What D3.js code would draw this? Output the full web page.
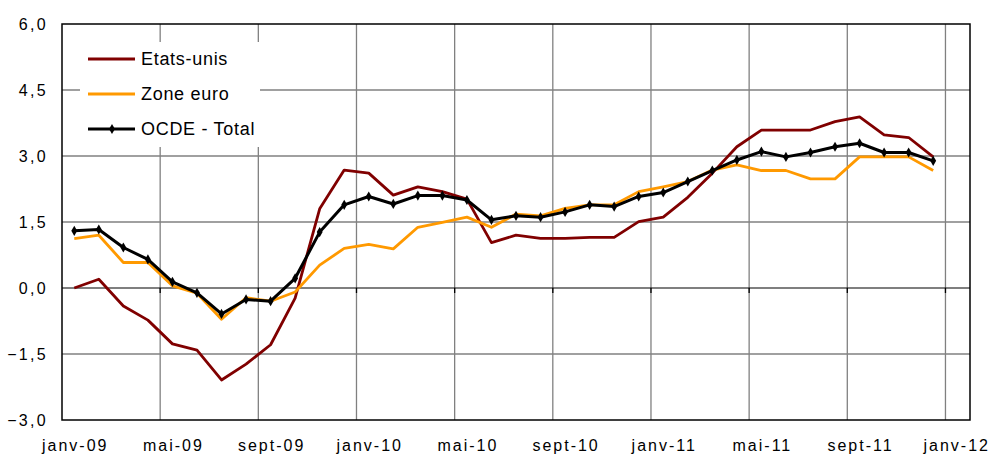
<!DOCTYPE html>
<html>
<head>
<meta charset="utf-8">
<script src="https://cdn.jsdelivr.net/npm/d3@7"></script>
<style>
  body { margin: 0; background: #fff; }
  text { font-family: Arial, "Liberation Sans", sans-serif; fill: #000; }
</style>
</head>
<body>
<div id="chart"></div>
<script>
// monthly data, janv-09 .. déc-11
const months = d3.range(36).map(i => new Date(2009, i, 1));
const etatsUnis = [0.0, 0.2, -0.41, -0.73, -1.27, -1.41, -2.09, -1.73, -1.29, -0.23, 1.80, 2.68,
  2.61, 2.11, 2.30, 2.19, 2.02, 1.03, 1.20, 1.13, 1.13, 1.15, 1.15, 1.51,
  1.61, 2.06, 2.61, 3.21, 3.59, 3.59, 3.59, 3.78, 3.89, 3.48, 3.42, 2.98];
const zoneEuro = [1.12, 1.20, 0.58, 0.58, 0.05, -0.12, -0.71, -0.22, -0.30, -0.09, 0.52, 0.90,
  0.99, 0.89, 1.38, 1.49, 1.61, 1.38, 1.68, 1.64, 1.81, 1.89, 1.89, 2.19,
  2.30, 2.42, 2.68, 2.80, 2.67, 2.67, 2.48, 2.48, 2.98, 2.98, 2.98, 2.67];
const ocde = [1.30, 1.33, 0.92, 0.65, 0.14, -0.11, -0.59, -0.26, -0.30, 0.22, 1.27, 1.89,
  2.08, 1.91, 2.10, 2.10, 2.00, 1.55, 1.64, 1.61, 1.73, 1.89, 1.85, 2.08,
  2.17, 2.42, 2.67, 2.91, 3.10, 2.98, 3.08, 3.21, 3.29, 3.08, 3.08, 2.89];
const seriesNames = ["Etats-unis", "Zone euro", "OCDE - Total"];
const seriesColors = ["#800000", "#FF9900", "#000000"];
const yTicks = [-3, -1.5, 0, 1.5, 3, 4.5, 6];
const xTickMonths = d3.range(0, 37, 4); // janv-09, mai-09, sept-09 ...
const moisFr = ["janv", "févr", "mars", "avr", "mai", "juin", "juil", "août", "sept", "oct", "nov", "déc"];

const W = 991, H = 456;
const margin = {left: 62, right: 21, top: 24, bottom: 36};

const svg = d3.select("#chart").append("svg")
  .attr("width", W).attr("height", H);

// month index scale (equal width months, as in the original)
const x = d3.scaleLinear().domain([0, 37]).range([margin.left, W - margin.right]);
const y = d3.scaleLinear().domain([-3, 6]).range([H - margin.bottom, margin.top]);

const fmt = v => d3.format(".1f")(v).replace(".", ",");

// grid
svg.append("g").selectAll("line").data(yTicks.filter(v => v !== 0 && v !== -3 && v !== 6))
  .join("line")
  .attr("x1", x(0)).attr("x2", x(37))
  .attr("y1", d => y(d)).attr("y2", d => y(d))
  .attr("stroke", "#808080").attr("stroke-width", 1.3);
svg.append("g").selectAll("line").data(xTickMonths.filter(m => m > 0 && m < 37))
  .join("line")
  .attr("x1", d => x(d)).attr("x2", d => x(d))
  .attr("y1", y(6)).attr("y2", y(-3))
  .attr("stroke", "#808080").attr("stroke-width", 1.3);

// zero line with ticks
svg.append("line")
  .attr("x1", x(0)).attr("x2", x(37))
  .attr("y1", y(0)).attr("y2", y(0))
  .attr("stroke", "#000").attr("stroke-width", 1.2);
svg.append("g").selectAll("line").data(xTickMonths.filter(m => m > 0 && m < 37))
  .join("line")
  .attr("x1", d => x(d)).attr("x2", d => x(d))
  .attr("y1", y(0)).attr("y2", y(0) + 5)
  .attr("stroke", "#000").attr("stroke-width", 1.3);

// legend box (white, hides grid)
const lg = svg.append("g");
lg.append("rect")
  .attr("x", 80).attr("y", 42).attr("width", 180).attr("height", 105)
  .attr("fill", "#fff");

// frame
svg.append("rect")
  .attr("x", x(0)).attr("y", y(6))
  .attr("width", x(37) - x(0)).attr("height", y(-3) - y(6))
  .attr("fill", "none").attr("stroke", "#000").attr("stroke-width", 1.5);

// y labels
svg.append("g").selectAll("text").data(yTicks)
  .join("text")
  .attr("x", margin.left - 14).attr("y", d => y(d))
  .attr("dy", "0.36em")
  .attr("text-anchor", "end")
  .style("font-size", "16px").style("letter-spacing", "2.3px")
  .text(fmt);

// x labels, centred on the month
svg.append("g").selectAll("text").data(xTickMonths)
  .join("text")
  .attr("x", d => x(d + 0.5) + (d === 36 ? -1 : 1)).attr("y", H - 5)
  .attr("text-anchor", "middle")
  .style("font-size", "16px").style("letter-spacing", "2px")
  .text(d => {
    const dt = new Date(2009, d, 1);
    return moisFr[dt.getMonth()] + "-" + String(dt.getFullYear()).slice(2);
  });

// lines
const line = d3.line().x((d, i) => x(i + 0.5)).y(d => y(d));
const allSeries = [etatsUnis, zoneEuro, ocde];
allSeries.forEach((s, k) => {
  svg.append("path").datum(s)
    .attr("d", line)
    .attr("fill", "none")
    .attr("stroke", seriesColors[k])
    .attr("stroke-width", k === 2 ? 3 : 2.8)
    .attr("stroke-linejoin", "round");
});

const diamond = d3.symbol().type(d3.symbolDiamond).size(30);
svg.append("g").selectAll("path").data(ocde)
  .join("path")
  .attr("transform", (d, i) => `translate(${x(i + 0.5)},${y(d)})`)
  .attr("d", diamond)
  .attr("fill", "#000");

// legend entries
seriesNames.forEach((name, k) => {
  const ly = 59 + k * 35;
  lg.append("line")
    .attr("x1", 88).attr("x2", 135).attr("y1", ly).attr("y2", ly)
    .attr("stroke", seriesColors[k]).attr("stroke-width", 3);
  if (k === 2) {
    lg.append("path")
      .attr("transform", `translate(112,${ly})`)
      .attr("d", diamond).attr("fill", "#000");
  }
  lg.append("text")
    .attr("x", 141).attr("y", ly).attr("dy", "0.36em")
    .style("font-size", "18px").style("letter-spacing", "0.7px")
    .text(name);
});
</script>
</body>
</html>
